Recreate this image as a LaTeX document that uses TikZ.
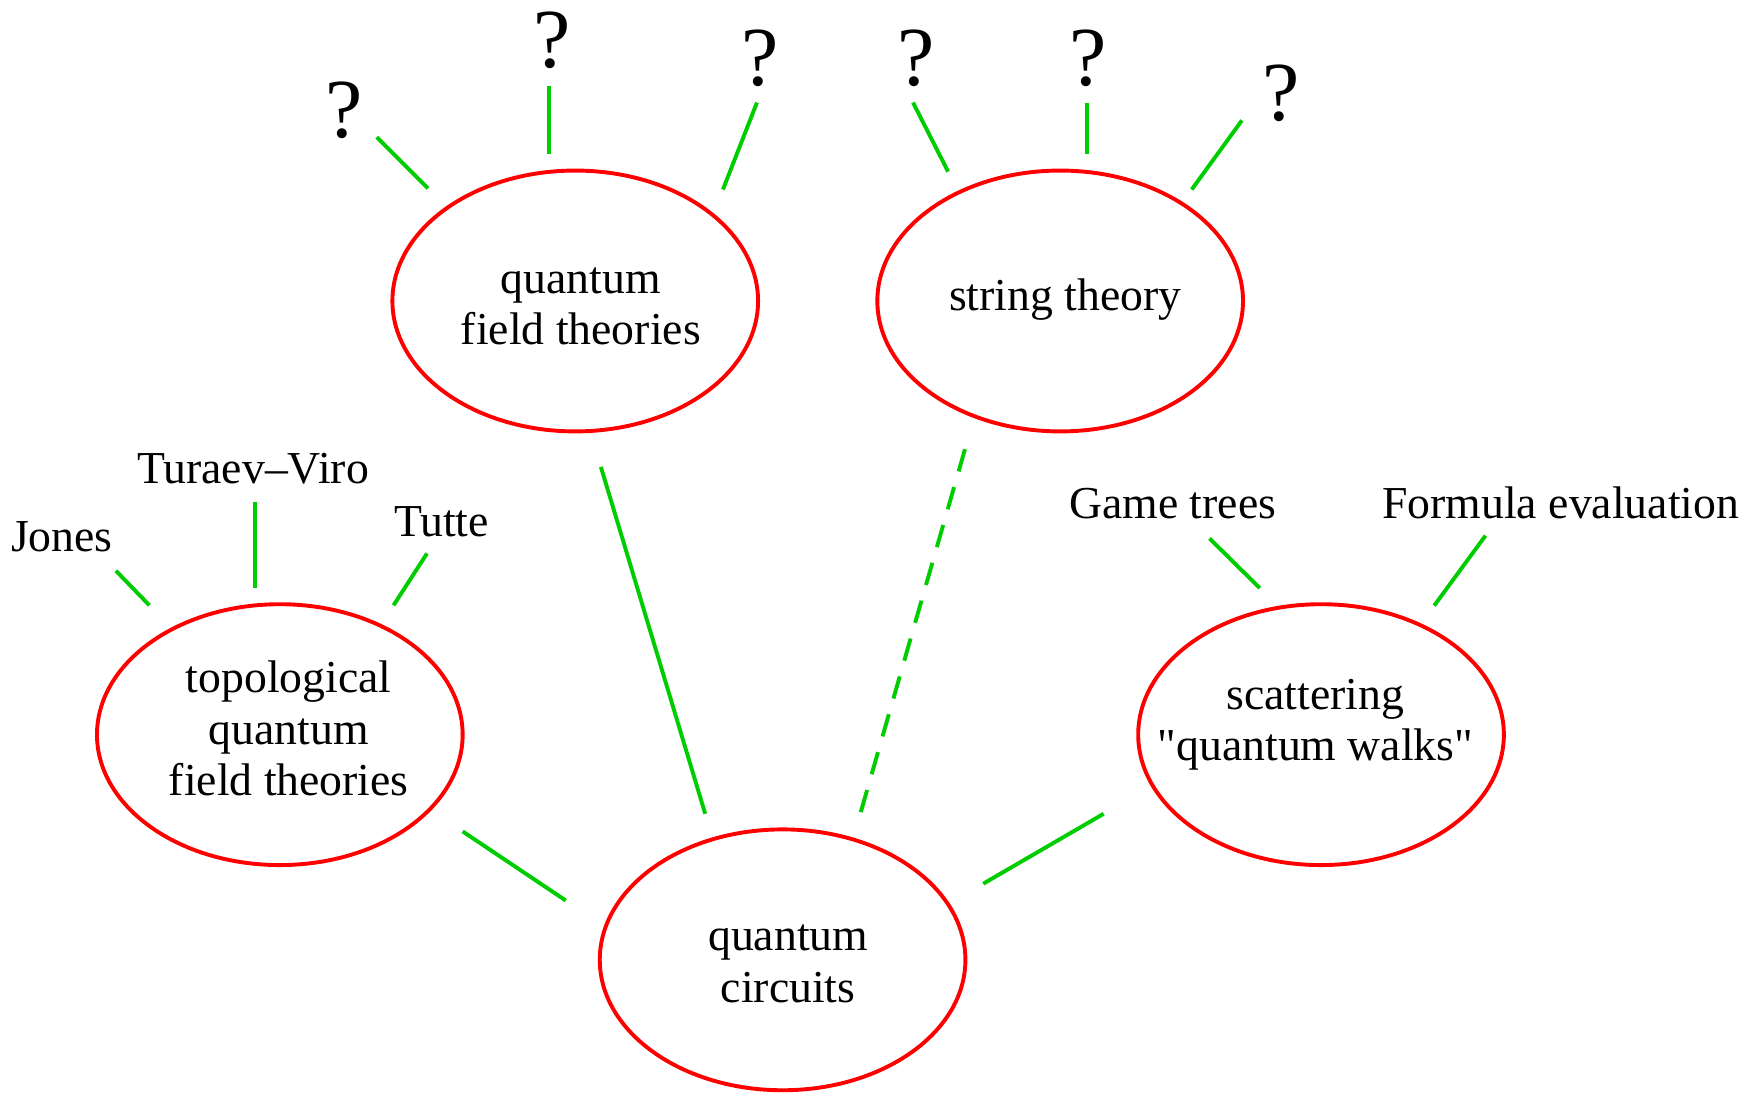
\documentclass[tikz,border=0pt]{standalone}
\usepackage{fontspec}
\setmainfont{Liberation Serif}[Ligatures=TeXOff]
\usetikzlibrary{shapes.geometric}
\definecolor{lred}{RGB}{255,0,0}
\definecolor{lgreen}{RGB}{0,205,0}
\begin{document}
\begin{tikzpicture}[x=0.3pt,y=-0.3pt,
  topic/.style={ellipse, draw=lred, line width=1.05pt, minimum width=98.4pt, minimum height=70.2pt, inner sep=0pt},
  txt/.style={font=\fontsize{12.3}{13.8}\selectfont, align=center, inner sep=0pt, anchor=base},
  qm/.style={font=\fontsize{22.6}{24}\selectfont, inner sep=0pt, anchor=base},
  link/.style={draw=lgreen, line width=1.05pt},
  weak/.style={link, dash pattern=on 6.2pt off 4.4pt}]
\useasboundingbox (0,0) rectangle (1568,981);
% ellipses
\node[topic] (qft) at (516,270) {};
\node[topic] (st)  at (951,270) {};
\node[topic] (tqft) at (251,659) {};
\node[topic] (sc)  at (1185,659) {};
\node[topic] (qc)  at (702,861) {};
% ellipse texts (anchor = baseline of last line)
\node[txt] (qftT) at (521,309) {quantum\\field theories};
\node[txt] (stT) at (955.5,278.6) {string theory};
\node[txt] (tqftT) at (259,713.5) {topological\\quantum\\field theories};
\node[txt] (scT) at (1180,682) {scattering\\"quantum walks"};
\node[txt] (qcT) at (707,899) {quantum\\circuits};
% question marks
\node[qm] (q1) at (309,123) {?};
\node[qm] (q2) at (495,61) {?};
\node[qm] (q3) at (681.5,76.7) {?};
\node[qm] (q4) at (821.5,76.7) {?};
\node[qm] (q5) at (976.5,76.7) {?};
\node[qm] (q6) at (1149,108) {?};
% labels
\node[txt] (jones) at (55.5,495) {Jones};
\node[txt] (tv) at (227,433.5) {Turaev–Viro};
\node[txt] (tutte) at (396,481) {Tutte};
\node[txt] (game) at (1052,465) {Game trees};
\node[txt] (form) at (1400,465) {Formula evaluation};
% connector end points
\coordinate (a1) at (338,123);  \coordinate (b1) at (384,169);
\coordinate (a2) at (492.5,77); \coordinate (b2) at (492.5,138);
\coordinate (a3) at (679,92);   \coordinate (b3) at (648.5,170);
\coordinate (a4) at (819,92);   \coordinate (b4) at (850.5,154);
\coordinate (a5) at (975,92);   \coordinate (b5) at (975,138);
\coordinate (a6) at (1114,108); \coordinate (b6) at (1069,170);
\coordinate (a7) at (104,512);  \coordinate (b7) at (134,543);
\coordinate (a8) at (228.5,450);\coordinate (b8) at (228.5,527.5);
\coordinate (a9) at (383,496.5);\coordinate (b9) at (353,543);
\coordinate (a10) at (1085,483);\coordinate (b10) at (1130,527.5);
\coordinate (a11) at (1332.5,480.5);\coordinate (b11) at (1286.5,543.3);
\coordinate (c1) at (539,418.8); \coordinate (d1) at (632.6,730);
\coordinate (c2) at (865.6,403); \coordinate (d2) at (772,729);
\coordinate (c3) at (415,745.8); \coordinate (d3) at (507.5,807.8);
\coordinate (c4) at (990,730);   \coordinate (d4) at (882,792.7);
% connectors
\foreach \i in {1,...,11} {\draw[link] (a\i) -- (b\i);}
\draw[link] (c1) -- (d1);
\draw[weak] (c2) -- (d2);
\draw[link] (c3) -- (d3);
\draw[link] (c4) -- (d4);
\end{tikzpicture}
\end{document}
